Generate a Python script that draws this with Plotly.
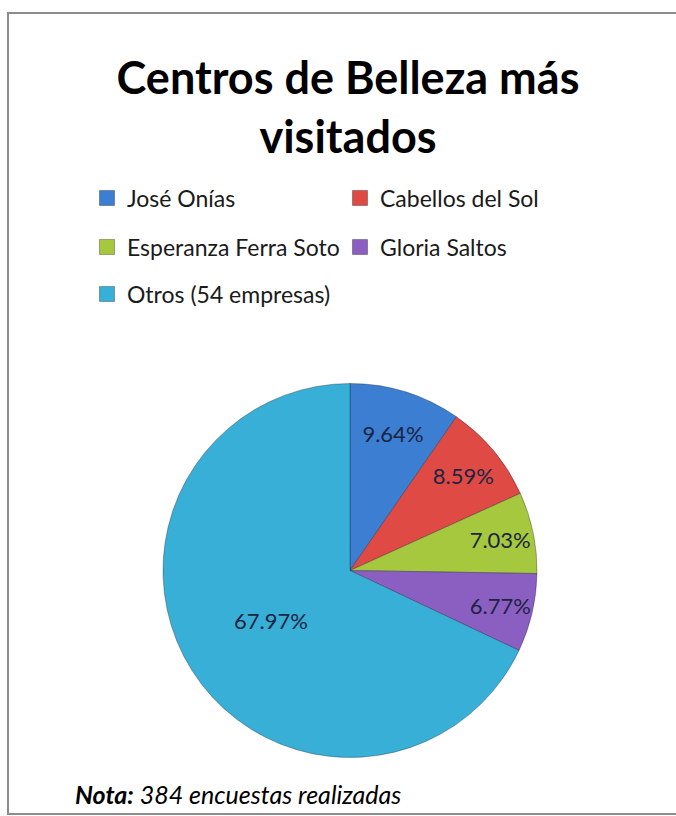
import plotly.graph_objects as go

labels = ["José Onías", "Cabellos del Sol", "Esperanza Ferra Soto", "Gloria Saltos", "Otros (54 empresas)"]
values = [9.64, 8.59, 7.03, 6.77, 67.97]
colors = ["#3C7ED2", "#E04A45", "#A5C83F", "#8B5EC2", "#38AFD6"]
legend_rows = ["legend", "legend", "legend2", "legend2", "legend3"]

title_text = "<b>Centros de Belleza más<br>visitados</b>"
note_text = "<b><i>Nota:</i></b><i> 384 encuestas realizadas</i>"

W, H = 676, 816
FONT = "Lato"

fig = go.Figure()

fig.add_trace(go.Pie(
    labels=labels,
    values=values,
    sort=False,
    direction="clockwise",
    rotation=0,
    marker=dict(colors=colors, line=dict(color="rgba(30,30,50,0.35)", width=1)),
    texttemplate="%{value:.2f}%",
    textposition="inside",
    insidetextorientation="horizontal",
    textfont=dict(family=FONT, size=22, color="#1B2440"),
    hoverinfo="label+percent",
    showlegend=False,
    domain=dict(x=[(350 - 187) / W, (350 + 187) / W], y=[1 - 758 / H, 1 - 383 / H]),
))

for lab, col, lg in zip(labels, colors, legend_rows):
    fig.add_trace(go.Scatter(
        x=[None], y=[None], mode="markers", name=lab,
        marker=dict(symbol="square", size=15, color=col,
                    line=dict(color="rgba(0,0,0,0.3)", width=1)),
        legend=lg, showlegend=True,
    ))

leg_common = dict(
    orientation="h",
    x=87 / W,
    xanchor="left",
    yanchor="middle",
    entrywidth=208,
    entrywidthmode="pixels",
    font=dict(family=FONT, size=23, color="#1a1a1a"),
    bgcolor="rgba(0,0,0,0)",
    itemsizing="trace",
    itemclick=False,
)

fig.update_layout(
    width=W, height=H,
    margin=dict(l=0, r=0, t=0, b=0),
    paper_bgcolor="white",
    plot_bgcolor="white",
    title=dict(text=title_text, x=348 / W, xanchor="center", y=1 - 94 / H, yanchor="top",
               yref="container",
               font=dict(family=FONT, size=45, color="#000000")),
    xaxis=dict(visible=False),
    yaxis=dict(visible=False),
    legend=dict(y=1 - 198 / H, **leg_common),
    legend2=dict(y=1 - 247 / H, **leg_common),
    legend3=dict(y=1 - 294 / H, **leg_common),
    uniformtext=dict(minsize=22, mode="show"),
    shapes=[dict(type="rect", xref="paper", yref="paper",
                 x0=8 / W, x1=1.02, y0=1 - 814 / H, y1=1 - 13 / H,
                 line=dict(color="#8C8C8C", width=2), layer="below")],
    annotations=[dict(text=note_text, xref="paper", yref="paper",
                      x=73 / W, y=1 - 794 / H, xanchor="left", yanchor="middle",
                      showarrow=False,
                      font=dict(family=FONT, size=25, color="#000000"))],
)

fig.write_html("out.html")
